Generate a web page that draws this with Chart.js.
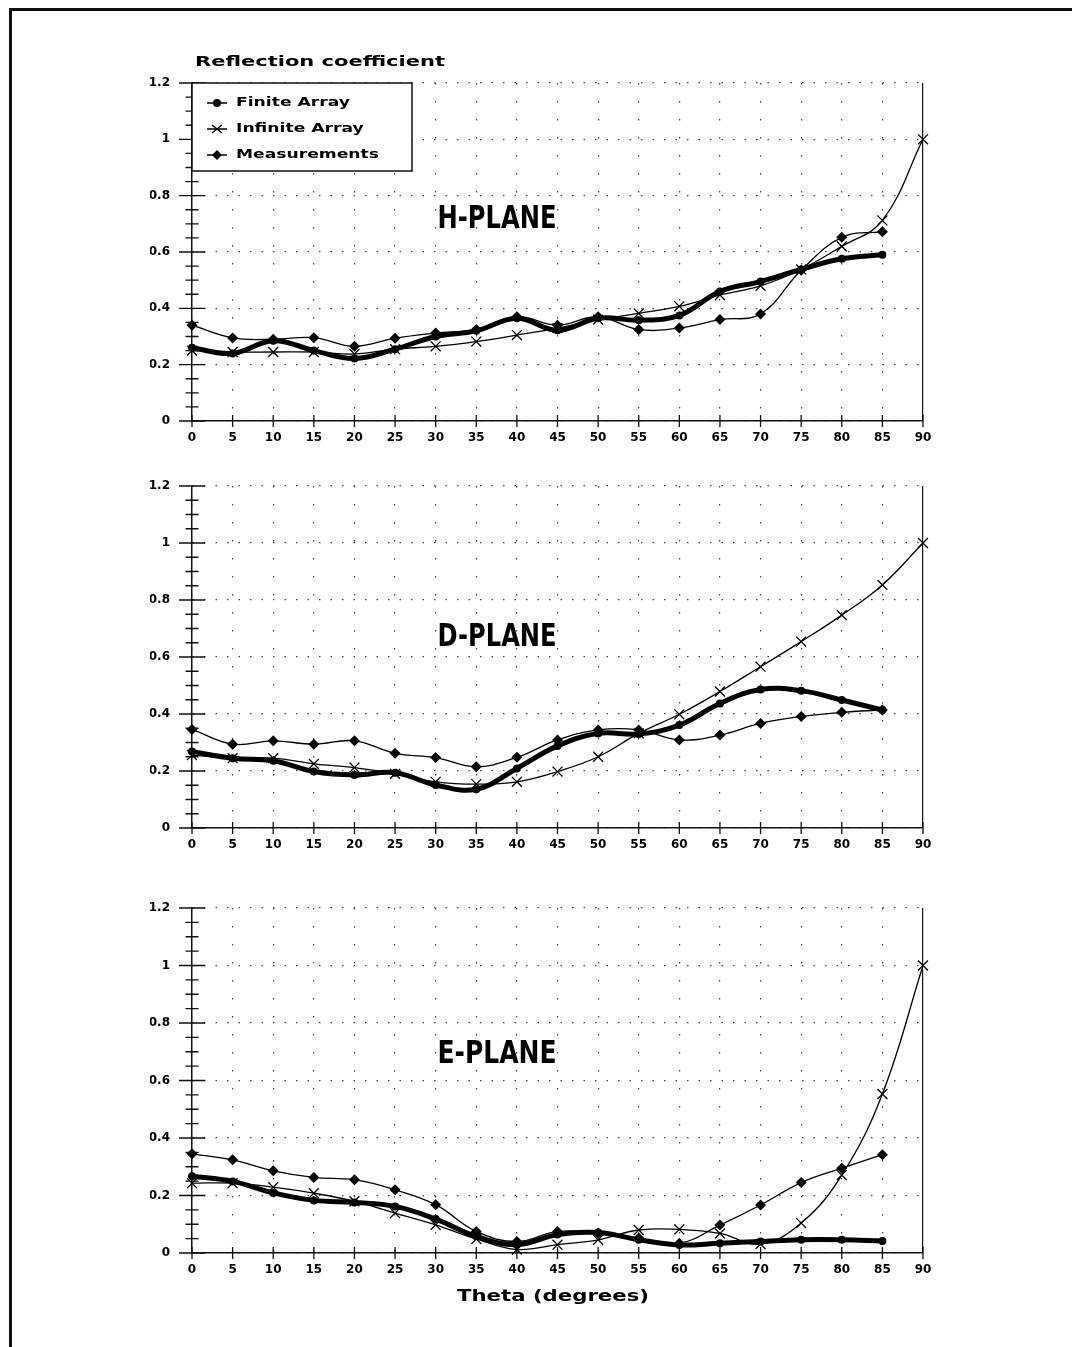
<!DOCTYPE html>
<html>
<head>
<meta charset="utf-8">
<script src="https://cdn.jsdelivr.net/npm/chart.js@4.4.1/dist/chart.umd.min.js"></script>
<style>
html, body { margin: 0; padding: 0; background: #fff; }
body { width: 1075px; height: 1347px; position: relative; overflow: hidden; }
canvas { position: absolute; left: 0; }
#frame { position: absolute; left: 9px; top: 8px; width: 1060px; height: 1345px;
         border-top: 3px solid #111; border-left: 3px solid #111; }
</style>
</head>
<body>
<div id="frame"></div>
<canvas id="hplane"></canvas>
<canvas id="dplane"></canvas>
<canvas id="eplane"></canvas>
<script>
// angles (degrees)
const theta = [0, 5, 10, 15, 20, 25, 30, 35, 40, 45, 50, 55, 60, 65, 70, 75, 80, 85, 90];
const yTickLabels = ['0', '0.2', '0.4', '0.6', '0.8', '1', '1.2'];
const seriesNames = ['Finite Array', 'Infinite Array', 'Measurements'];

// H-plane
const hFinite = [0.26, 0.24, 0.285, 0.25, 0.222, 0.255, 0.30, 0.32, 0.365, 0.322, 0.365, 0.358, 0.375, 0.46, 0.495, 0.538, 0.576, 0.59];
const hInfinite = [0.25, 0.245, 0.245, 0.245, 0.238, 0.255, 0.265, 0.282, 0.305, 0.33, 0.36, 0.382, 0.407, 0.447, 0.48, 0.538, 0.62, 0.712, 1.0];
const hMeas = [0.34, 0.295, 0.29, 0.296, 0.265, 0.294, 0.312, 0.325, 0.37, 0.34, 0.37, 0.325, 0.33, 0.36, 0.38, 0.535, 0.652, 0.672];

// D-plane
const dFinite = [0.268, 0.245, 0.236, 0.198, 0.186, 0.194, 0.151, 0.136, 0.209, 0.288, 0.332, 0.33, 0.361, 0.437, 0.486, 0.482, 0.449, 0.414];
const dInfinite = [0.256, 0.245, 0.245, 0.225, 0.212, 0.19, 0.162, 0.154, 0.162, 0.198, 0.25, 0.332, 0.399, 0.479, 0.566, 0.654, 0.747, 0.853, 1.0];
const dMeas = [0.346, 0.294, 0.306, 0.294, 0.306, 0.262, 0.247, 0.215, 0.248, 0.309, 0.344, 0.344, 0.309, 0.326, 0.367, 0.391, 0.406, 0.414];

// E-plane
const eFinite = [0.267, 0.249, 0.209, 0.183, 0.176, 0.162, 0.118, 0.058, 0.029, 0.064, 0.071, 0.046, 0.028, 0.034, 0.04, 0.046, 0.046, 0.042];
const eInfinite = [0.243, 0.243, 0.229, 0.208, 0.18, 0.139, 0.098, 0.049, 0.012, 0.029, 0.046, 0.08, 0.082, 0.068, 0.031, 0.104, 0.271, 0.553, 1.0];
const eMeas = [0.345, 0.324, 0.286, 0.263, 0.255, 0.22, 0.168, 0.075, 0.04, 0.075, 0.07, 0.052, 0.034, 0.097, 0.167, 0.245, 0.295, 0.342];

const tickFont = { family: 'DejaVu Sans', size: 12, weight: 'bold' };

function pts(arr) {
    return arr.map((v, i) => ({ x: theta[i], y: v }));
}
function isMajor(v) {
    return Math.round(v * 100) % 20 === 0;
}

function fitText(ctx, text, x, y, w, font, align) {
    ctx.font = font;
    let s = w / ctx.measureText(text).width;
    ctx.save();
    ctx.translate(x, y);
    ctx.scale(s, 1);
    ctx.textAlign = align;
    ctx.textBaseline = 'middle';
    ctx.fillStyle = '#000';
    ctx.fillText(text, 0, 0);
    ctx.restore();
}

function drawMarker(ctx, style, cx, cy) {
    ctx.beginPath();
    if (style === 'circle') {
        ctx.arc(cx, cy, 4, 0, Math.PI * 2);
        ctx.fill();
    } else if (style === 'rectRot') {
        ctx.moveTo(cx, cy - 5); ctx.lineTo(cx + 5, cy); ctx.lineTo(cx, cy + 5); ctx.lineTo(cx - 5, cy);
        ctx.closePath();
        ctx.fill();
    } else {
        ctx.moveTo(cx - 5, cy - 4); ctx.lineTo(cx + 5, cy + 4);
        ctx.moveTo(cx - 5, cy + 4); ctx.lineTo(cx + 5, cy - 4);
        ctx.stroke();
    }
}

const decor = {
    id: 'decor',
    afterDraw(chart, args, opts) {
        const { ctx, chartArea: a, scales: { x, y } } = chart;
        const top = opts.canvasTop;
        ctx.save();
        // crossing tick marks
        ctx.strokeStyle = '#111';
        ctx.lineWidth = 1.3;
        ctx.beginPath();
        y.ticks.forEach(t => {
            let py = y.getPixelForValue(t.value);
            let l = isMajor(t.value) ? 13 : 6.5;
            ctx.moveTo(a.left - l, py);
            ctx.lineTo(a.left + l, py);
        });
        x.ticks.forEach(t => {
            let px = x.getPixelForValue(t.value);
            ctx.moveTo(px, a.bottom - 6);
            ctx.lineTo(px, a.bottom + 6);
        });
        ctx.stroke();

        fitText(ctx, opts.plane, 497, opts.planeY - top, 119, 'bold 32px "Liberation Sans Narrow", "DejaVu Sans Condensed", sans-serif', 'center');

        if (opts.title) {
            fitText(ctx, 'Reflection coefficient', 195, 62 - top, 250, 'bold 14px "DejaVu Sans"', 'left');
            // legend
            let lx = a.left, ly = a.top, lw = 220, lh = 88;
            ctx.fillStyle = '#fff';
            ctx.fillRect(lx, ly, lw, lh);
            ctx.strokeStyle = '#111';
            ctx.lineWidth = 1.5;
            ctx.strokeRect(lx, ly, lw, lh);
            ctx.font = 'bold 12px "DejaVu Sans"';
            let s = 143 / ctx.measureText('Measurements').width;
            chart.data.datasets.forEach((ds, i) => {
                let cy = ly + 20 + i * 26;
                ctx.strokeStyle = '#000';
                ctx.fillStyle = '#000';
                ctx.lineWidth = 1.5;
                ctx.beginPath();
                ctx.moveTo(lx + 15, cy);
                ctx.lineTo(lx + 35, cy);
                ctx.stroke();
                drawMarker(ctx, ds.pointStyle, lx + 25, cy);
                ctx.save();
                ctx.translate(lx + 44, cy);
                ctx.scale(s, 1);
                ctx.font = 'bold 12px "DejaVu Sans"';
                ctx.textBaseline = 'middle';
                ctx.textAlign = 'left';
                ctx.fillText(ds.label, 0, 0);
                ctx.restore();
            });
        }
        if (opts.xTitle) {
            fitText(ctx, 'Theta (degrees)', 553, 1297 - top, 192, 'bold 16px "DejaVu Sans"', 'center');
        }
        ctx.restore();
    }
};

function makePanel(id, plotTop, plotBottom, finite, infinite, meas, plane, planeY, title, xTitle) {
    const canvas = document.getElementById(id);
    const cTop = plotTop - 40;
    canvas.width = 1075;
    canvas.height = plotBottom - plotTop + 100;
    canvas.style.top = cTop + 'px';

    return new Chart(canvas, {
        type: 'line',
        data: {
            datasets: [{
                label: seriesNames[0],
                data: pts(finite),
                borderColor: '#000',
                backgroundColor: '#000',
                borderWidth: 5,
                pointStyle: 'circle',
                pointRadius: 4,
                pointBorderWidth: 0,
                tension: 0.4,
                clip: false
            }, {
                label: seriesNames[1],
                data: pts(infinite),
                borderColor: '#000',
                backgroundColor: '#000',
                borderWidth: 1.3,
                pointStyle: 'crossRot',
                pointRadius: 7,
                pointBorderWidth: 1.3,
                tension: 0.4,
                clip: false
            }, {
                label: seriesNames[2],
                data: pts(meas),
                borderColor: '#000',
                backgroundColor: '#000',
                borderWidth: 1.3,
                pointStyle: 'rectRot',
                pointRadius: 5.5,
                pointBorderWidth: 0,
                tension: 0.4,
                clip: false
            }]
        },
        options: {
            responsive: false,
            animation: false,
            devicePixelRatio: 1,
            layout: { padding: { left: 150, right: 152, top: 40, bottom: 10 } },
            plugins: {
                legend: { display: false },
                tooltip: { enabled: false },
                decor: { canvasTop: cTop, plane: plane, planeY: planeY, title: title, xTitle: xTitle }
            },
            scales: {
                x: {
                    type: 'linear',
                    min: 0,
                    max: 90,
                    ticks: {
                        stepSize: 5,
                        autoSkip: false,
                        maxRotation: 0,
                        padding: 10,
                        color: '#000',
                        font: tickFont
                    },
                    grid: {
                        drawTicks: false,
                        lineWidth: 1.2,
                        color: c => c.tick && c.tick.value === 90 ? '#111' : '#444'
                    },
                    border: {
                        color: '#111',
                        width: 1.5,
                        dash: c => c.tick && c.tick.value === 90 ? [] : [1.5, 16.5]
                    },
                    afterFit: s => { s.height = 50; s.paddingLeft = 0; s.paddingRight = 0; }
                },
                y: {
                    min: 0,
                    max: 1.2,
                    ticks: {
                        stepSize: 0.05,
                        autoSkip: false,
                        padding: 22,
                        color: '#000',
                        font: tickFont,
                        callback: v => isMajor(v) ? yTickLabels[Math.round(v * 5)] : ''
                    },
                    grid: {
                        drawTicks: false,
                        lineWidth: 1.2,
                        color: c => c.tick && isMajor(c.tick.value) ? '#444' : 'rgba(0,0,0,0)'
                    },
                    border: {
                        color: '#111',
                        width: 1.5,
                        dash: [1.5, 10]
                    },
                    afterFit: s => { s.width = 42; s.paddingTop = 0; s.paddingBottom = 0; }
                }
            }
        },
        plugins: [decor]
    });
}

makePanel('hplane', 83, 421, hFinite, hInfinite, hMeas, 'H-PLANE', 220, true, false);
makePanel('dplane', 486, 828, dFinite, dInfinite, dMeas, 'D-PLANE', 638, false, false);
makePanel('eplane', 908, 1253, eFinite, eInfinite, eMeas, 'E-PLANE', 1055, false, true);
</script>
</body>
</html>
